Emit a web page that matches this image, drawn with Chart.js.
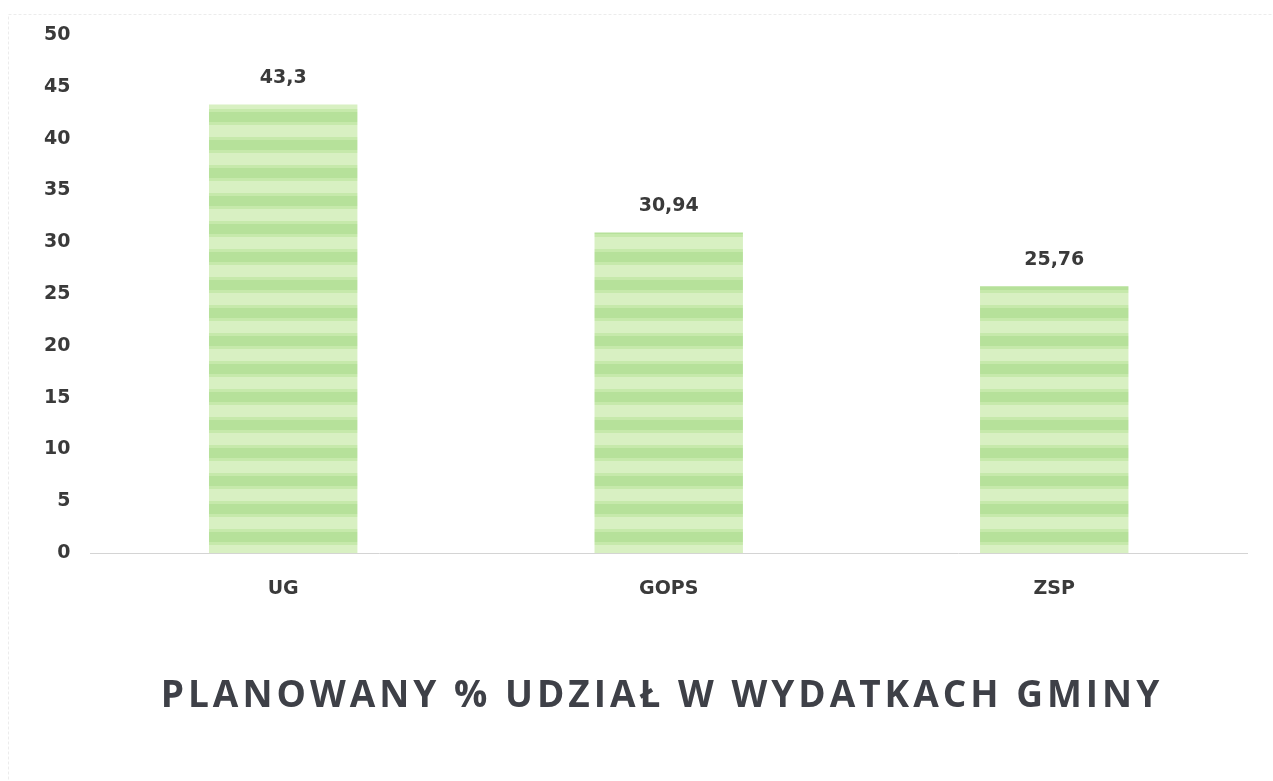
<!DOCTYPE html>
<html>
<head>
<meta charset="utf-8">
<script src="https://cdn.jsdelivr.net/npm/chart.js@4/dist/chart.umd.min.js"></script>
<style>
html,body{margin:0;padding:0;background:#fff;}
#wrap{width:1273px;height:781px;position:relative;}
</style>
</head>
<body>
<div id="wrap"><canvas id="c" width="1273" height="781"></canvas></div>
<script>
const categories = ['UG', 'GOPS', 'ZSP'];
const values = [43.3, 30.94, 25.76];
const valueLabels = ['43,3', '30,94', '25,76'];
const yTicks = [0, 5, 10, 15, 20, 25, 30, 35, 40, 45, 50];
const chartTitle = 'PLANOWANY % UDZIAŁ W WYDATKACH GMINY';

function stripePattern() {
  const p = document.createElement('canvas');
  p.width = 8; p.height = 28;
  const g = p.getContext('2d');
  g.fillStyle = '#d8f0c2';
  g.fillRect(0, 0, 8, 28);
  g.fillStyle = '#b6e19a';
  g.fillRect(0, 0, 8, 10);
  g.fillStyle = '#c6e9ab';
  g.fillRect(0, 10, 8, 3);
  g.fillRect(0, 25, 8, 3);
  return g.createPattern(p, 'repeat');
}

const framePlugin = {
  id: 'frame',
  beforeDraw(chart) {
    const ctx = chart.ctx;
    ctx.save();
    ctx.strokeStyle = '#ececec';
    ctx.lineWidth = 1;
    ctx.setLineDash([3, 2]);
    ctx.strokeRect(8.5, 14.5, 1300, 800);
    ctx.restore();
  }
};

const valueLabelPlugin = {
  id: 'valueLabels',
  afterDatasetsDraw(chart) {
    const ctx = chart.ctx;
    const meta = chart.getDatasetMeta(0);
    ctx.save();
    ctx.font = 'bold 19px "DejaVu Sans", sans-serif';
    ctx.fillStyle = '#3a3a3a';
    ctx.textAlign = 'center';
    ctx.textBaseline = 'middle';
    meta.data.forEach((bar, i) => {
      ctx.fillText(valueLabels[i], bar.x, bar.y - 26);
    });
    ctx.restore();
  }
};

const bottomTitlePlugin = {
  id: 'bottomTitle',
  afterDraw(chart) {
    const ctx = chart.ctx;
    ctx.save();
    ctx.font = 'bold 37px "Open Sans", sans-serif';
    ctx.fillStyle = '#3e4047';
    ctx.textAlign = 'center';
    ctx.textBaseline = 'middle';
    ctx.letterSpacing = '4px';
    ctx.fillText(chartTitle, 662, 696);
    ctx.restore();
  }
};

new Chart(document.getElementById('c'), {
  type: 'bar',
  data: {
    labels: categories,
    datasets: [{
      data: values,
      backgroundColor: stripePattern(),
      borderWidth: 0,
      categoryPercentage: 1,
      barPercentage: 0.385
    }]
  },
  options: {
    responsive: false,
    animation: false,
    layout: { padding: { top: 35, right: 26, left: 24, bottom: 157 } },
    plugins: {
      legend: { display: false },
      tooltip: { enabled: false },
      title: { display: false }
    },
    scales: {
      x: {
        grid: { display: false, drawTicks: false },
        border: { display: true, color: '#d4d4d4', width: 1 },
        ticks: {
          color: '#3a3a3a',
          padding: 24,
          font: { family: '"DejaVu Sans", sans-serif', size: 19, weight: 'bold' }
        }
      },
      y: {
        min: 0,
        max: 50,
        afterBuildTicks(axis) { axis.ticks = yTicks.map(v => ({ value: v })); },
        grid: { display: false, drawTicks: false },
        border: { display: false },
        ticks: {
          color: '#3a3a3a',
          padding: 20,
          font: { family: '"DejaVu Sans", sans-serif', size: 19, weight: 'bold' }
        }
      }
    }
  },
  plugins: [framePlugin, valueLabelPlugin, bottomTitlePlugin]
});
</script>
</body>
</html>
